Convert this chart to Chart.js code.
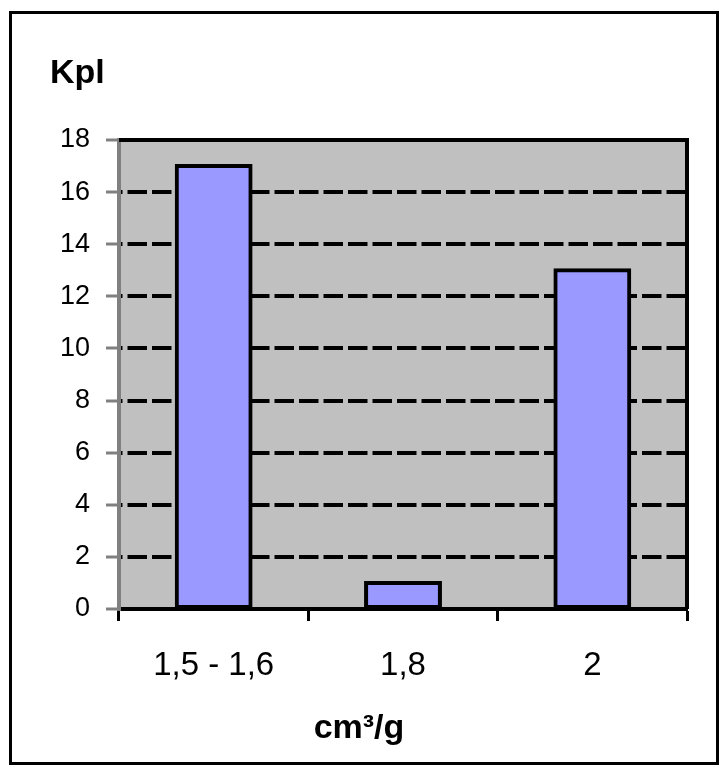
<!DOCTYPE html>
<html>
<head>
<meta charset="utf-8">
<title>Kpl – cm³/g</title>
<script src="https://cdn.jsdelivr.net/npm/chart.js@4"></script>
<style>
  html, body { margin: 0; padding: 0; background: #fff; }
  canvas { display: block; }
</style>
</head>
<body>
<canvas id="c" width="728" height="774"></canvas>
<script>
// Counts per density class
const categories = ['1,5 - 1,6', '1,8', '2'];
const counts = [17, 1, 13];

// Axis texts and value range
const yAxisTitle = 'Kpl';
const xAxisTitle = 'cm³/g';
const yMin = 0;
const yMax = 18;
const yStep = 2;

const FONT = '"Liberation Sans", Arial, Helvetica, sans-serif';

// Grey plot background, black top/right plot edges, outer frame and axis titles
const framePlugin = {
  id: 'frame',
  beforeDraw(chart) {
    const { ctx, chartArea: a } = chart;
    ctx.save();
    ctx.fillStyle = '#ffffff';
    ctx.fillRect(0, 0, chart.width, chart.height);
    ctx.fillStyle = '#C0C0C0';
    ctx.fillRect(a.left, a.top, a.right - a.left, a.bottom - a.top);
    ctx.restore();
  },
  afterDraw(chart) {
    const { ctx, chartArea: a } = chart;
    ctx.save();
    ctx.strokeStyle = '#000';
    ctx.lineWidth = 4;
    ctx.beginPath();
    ctx.moveTo(a.left, a.top);
    ctx.lineTo(a.right, a.top);
    ctx.lineTo(a.right, a.bottom);
    ctx.stroke();

    ctx.lineWidth = 3;
    ctx.strokeRect(10.5, 12.5, 707, 751);

    ctx.fillStyle = '#000';
    ctx.font = 'bold 34px ' + FONT;
    ctx.textBaseline = 'alphabetic';
    ctx.textAlign = 'left';
    ctx.fillText(yAxisTitle, a.left - 69, a.top - 57);
    ctx.textAlign = 'center';
    ctx.fillText(xAxisTitle, a.left + 240, a.bottom + 129);
    ctx.restore();
  }
};

new Chart(document.getElementById('c'), {
  type: 'bar',
  data: {
    labels: categories,
    datasets: [{
      data: counts,
      backgroundColor: '#9999FF',
      borderColor: '#000000',
      borderWidth: 4,
      borderSkipped: false,
      inflateAmount: 2,
      barPercentage: 0.39,
      categoryPercentage: 1
    }]
  },
  options: {
    responsive: false,
    animation: false,
    devicePixelRatio: 1,
    layout: { padding: { left: 10, top: 140, right: 41, bottom: 0 } },
    plugins: {
      legend: { display: false },
      tooltip: { enabled: false },
      title: { display: false }
    },
    scales: {
      x: {
        grid: {
          display: true,
          drawOnChartArea: false,
          offset: true,
          drawTicks: true,
          tickLength: 12,
          tickColor: '#000000',
          tickWidth: 3
        },
        border: { display: true, color: '#000000', width: 4 },
        ticks: {
          color: '#000000',
          font: { family: FONT, size: 33 },
          padding: 25,
          maxRotation: 0,
          autoSkip: false
        },
        afterFit(scale) { scale.height = 165; }
      },
      y: {
        min: yMin,
        max: yMax,
        grid: {
          color: '#000000',
          lineWidth: 4,
          tickColor: '#808080',
          tickLength: 13,
          tickWidth: 3
        },
        border: { display: true, color: '#808080', width: 4, dash: [19.5, 5], dashOffset: 18 },
        ticks: {
          stepSize: yStep,
          color: '#000000',
          font: { family: FONT, size: 27 },
          padding: 16
        },
        afterFit(scale) { scale.width = 109; }
      }
    }
  },
  plugins: [framePlugin]
});
</script>
</body>
</html>
